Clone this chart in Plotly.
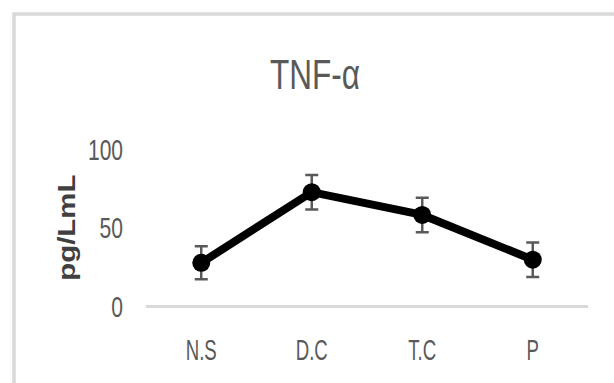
import plotly.graph_objects as go

categories = ["N.S", "D.C", "T.C", "P"]
values = [27.5, 72.5, 58, 29.5]
errors = [10.5, 11, 11, 11]
y_ticks = [0, 50, 100]
title_text = "TNF-α"
y_title = "pg/LmL"

FONT = "Liberation Sans, Arial, sans-serif"

# plot area in pixels
L, R, T, B = 146, 588, 149, 306
W, H = R - L, B - T


def px(x):
    return (x - L) / W


def py(y):
    return (B - y) / H


fig = go.Figure()
fig.add_trace(go.Scatter(
    x=categories, y=values, mode="lines+markers",
    line=dict(color="black", width=8),
    marker=dict(color="black", size=18),
    error_y=dict(type="data", array=errors, visible=True,
                 color="#595959", thickness=2.5, width=6.5),
    showlegend=False,
))

fig.update_layout(
    width=614, height=383,
    margin=dict(l=L, r=614 - R, t=T, b=383 - B),
    paper_bgcolor="white", plot_bgcolor="white",
    xaxis=dict(type="category", range=[-0.5, 3.5], showgrid=False,
               showline=False, zeroline=False, ticks="",
               ticklabelstandoff=23,
               tickfont=dict(family=FONT, size=30, color="#595959")),
    yaxis=dict(range=[0, 100], tickvals=y_ticks, showgrid=False,
               showline=False, zeroline=True, zerolinecolor="#d9d9d9",
               zerolinewidth=3, ticks="", ticklabelstandoff=22,
               tickfont=dict(family=FONT, size=30, color="#595959")),
    shapes=[dict(type="rect", xref="paper", yref="paper",
                 x0=px(14), x1=px(640), y0=py(400), y1=py(14),
                 line=dict(color="#d9d9d9", width=3.5), layer="below")],
    annotations=[
        dict(text=title_text, xref="paper", yref="paper",
             x=px(315), y=py(74),
             xanchor="center", yanchor="middle", showarrow=False,
             font=dict(family=FONT, size=42, color="#595959")),
        dict(text="<b>" + y_title + "</b>", xref="paper", yref="paper",
             x=px(66), y=py(228), textangle=-90,
             xanchor="center", yanchor="middle", showarrow=False,
             font=dict(family=FONT, size=24, color="#404040")),
    ],
)

# condensed lettering, as in the reference (text stays real SVG text)
post = """
function squeeze(sel, f, fixed){
  document.querySelectorAll(sel).forEach(function(t){
    var w = t.getComputedTextLength();
    var target = fixed ? fixed : w * f;
    t.setAttribute('textLength', target.toFixed(1));
    t.setAttribute('lengthAdjust', 'spacingAndGlyphs');
  });
}
squeeze('.xtick text', 0.62);
squeeze('.ytick text', 0.7);
squeeze('.annotation[data-index="0"] text', 0, 90);
squeeze('.annotation[data-index="1"] text', 0, 106);
"""

fig.write_html("out.html", post_script=post)
